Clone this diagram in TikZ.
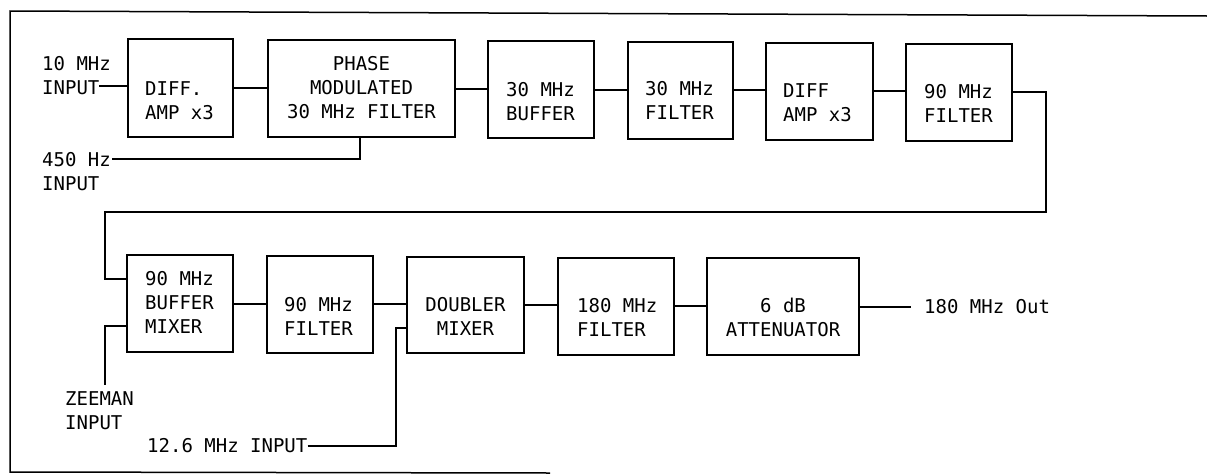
\documentclass[tikz,border=0pt]{standalone}
\usepackage{fontspec}
\newfontfamily\plt{DejaVu Sans Mono}
\begin{document}
\begin{tikzpicture}[x=1pt,y=-1pt,
  blk/.style={draw, line width=1.7pt, inner sep=0pt},
  lbl/.style={inner sep=0pt, font={\plt\fontsize{19}{24}\selectfont}},
  wire/.style={line width=1.2pt},
  frm/.style={line width=1.5pt}]
\useasboundingbox (0,0) rectangle (1207,474);
% frame
\draw[frm] (1207,16) -- (10,11) -- (10,472) -- (550,473);
% ---------- top row boxes ----------
\node[blk, minimum width=105pt, minimum height=98pt] (b1) at (180.5,88) {};
\node[blk, minimum width=187pt, minimum height=97pt] (b2) at (361.5,88.5) {};
\node[blk, minimum width=106pt, minimum height=97pt] (b3) at (541,89.5) {};
\node[blk, minimum width=105pt, minimum height=97pt] (b4) at (680.5,90.5) {};
\node[blk, minimum width=107pt, minimum height=97pt] (b5) at (819.5,91.5) {};
\node[blk, minimum width=106pt, minimum height=97pt] (b6) at (959,92.5) {};
% labels top row
\node[lbl, anchor=north west, align=left] (t1) at (145,81) {DIFF.\\AMP x3};
\node[lbl, anchor=north, align=center] (t2) at (361.5,56) {PHASE\\MODULATED\\30 MHz FILTER};
\node[lbl, anchor=north west, align=left] (t3) at (506,82) {30 MHz\\BUFFER};
\node[lbl, anchor=north west, align=left] (t4) at (645,81.5) {30 MHz\\FILTER};
\node[lbl, anchor=north west, align=left] (t5) at (783,83) {DIFF\\AMP x3};
\node[lbl, anchor=north west, align=left] (t6) at (924,84) {90 MHz\\FILTER};
% inputs top row
\node[lbl, anchor=north west, align=left] (in10) at (42,56) {10 MHz\\INPUT};
\node[lbl, anchor=north west, align=left] (in450) at (42,152) {450 Hz\\INPUT};
\coordinate (in10e) at (99,86);
\coordinate (in450e) at (112,159);
% ---------- bottom row boxes ----------
\node[blk, minimum width=106pt, minimum height=97pt] (c1) at (180,303.5) {};
\node[blk, minimum width=106pt, minimum height=97pt] (c2) at (320,304.5) {};
\node[blk, minimum width=117pt, minimum height=96pt] (c3) at (465.5,305) {};
\node[blk, minimum width=116pt, minimum height=97pt] (c4) at (616,306.5) {};
\node[blk, minimum width=152pt, minimum height=97pt] (c5) at (783,306.5) {};
% labels bottom row
\node[lbl, anchor=north west, align=left] (u1) at (145,271) {90 MHz\\BUFFER\\MIXER};
\node[lbl, anchor=north west, align=left] (u2) at (284,297) {90 MHz\\FILTER};
\node[lbl, anchor=north, align=center] (u3) at (465.5,297) {DOUBLER\\MIXER};
\node[lbl, anchor=north west, align=left] (u4) at (577,298) {180 MHz\\FILTER};
\node[lbl, anchor=north, align=center] (u5) at (783,298) {6 dB\\ATTENUATOR};
% inputs / output bottom row
\node[lbl, anchor=north west, align=left] (zee) at (65,391) {ZEEMAN\\INPUT};
\node[lbl, anchor=west] (in126) at (147,446) {12.6 MHz INPUT};
\node[lbl, anchor=west] (out) at (924,307) {180 MHz Out};
\coordinate (zeetop) at (105,385);
\coordinate (oute) at (911,307);
% ---------- connectors ----------
\draw[wire] (in10e) -- (b1.west |- in10e);
\draw[wire] (b1.east |- 0,88) -- (b2.west |- 0,88);
\draw[wire] (b2.east |- 0,89) -- (b3.west |- 0,89);
\draw[wire] (b3.east |- 0,90) -- (b4.west |- 0,90);
\draw[wire] (b4.east |- 0,90) -- (b5.west |- 0,90);
\draw[wire] (b5.east |- 0,91) -- (b6.west |- 0,91);
\draw[wire] (in450e) -- (360,159) -- (360,137.5);
\draw[wire] (b6.east |- 0,92) -- (1046,92) -- (1046,212) -- (105,212) -- (105,279) -- (c1.west |- 0,279);
\draw[wire] (c1.west |- 0,326) -- (105,326) -- (zeetop);
\draw[wire] (c1.east |- 0,304) -- (c2.west |- 0,304);
\draw[wire] (c2.east |- 0,304) -- (c3.west |- 0,304);
\draw[wire] (in126.east) -- (396,446) -- (396,328) -- (c3.west |- 0,328);
\draw[wire] (c3.east |- 0,305) -- (c4.west |- 0,305);
\draw[wire] (c4.east |- 0,306) -- (c5.west |- 0,306);
\draw[wire] (c5.east |- 0,307) -- (oute);
\end{tikzpicture}
\end{document}
